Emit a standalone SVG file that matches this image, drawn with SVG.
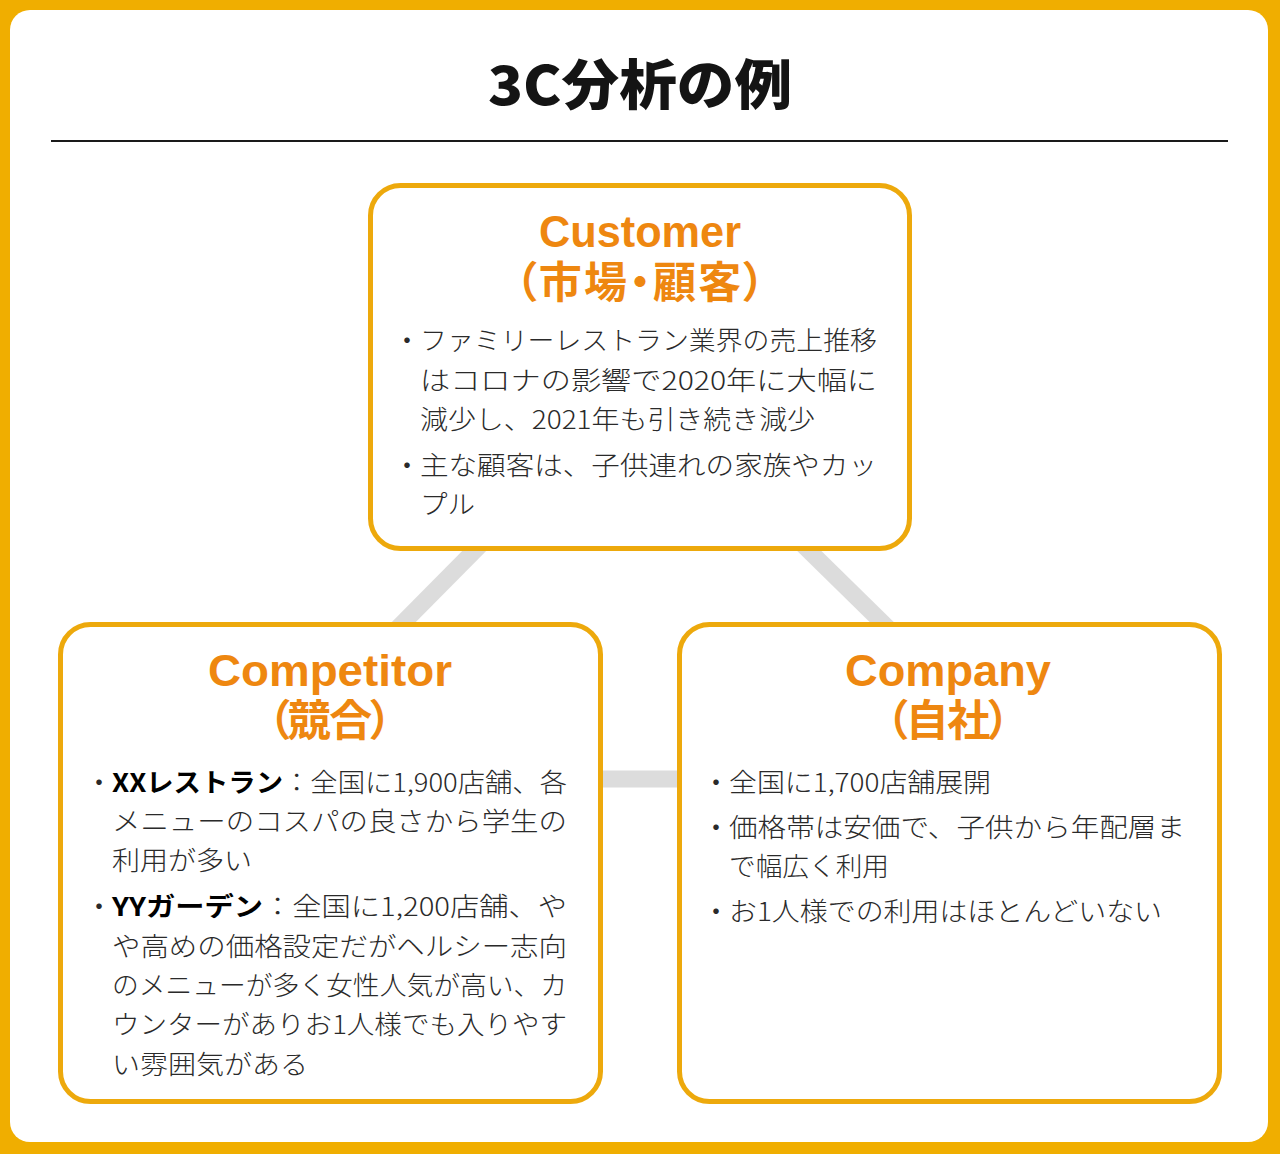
<svg xmlns="http://www.w3.org/2000/svg" width="1280" height="1154" viewBox="0 0 1280 1154">
<style>
.frame{fill:#F0AE00}
.panel{fill:#FFFFFF}
.box{fill:#FFFFFF;stroke:#EDA90C;stroke-width:5}
.conn{stroke:#DCDCDC;stroke-width:17;fill:none}
.title{font-family:"Noto Sans CJK JP","Noto Sans",sans-serif;font-weight:900;font-size:54px;fill:#141414;text-anchor:middle}
.hEn{font-family:"Liberation Sans","Noto Sans",sans-serif;font-weight:bold;font-size:44px;fill:#EE8710;text-anchor:middle}
.hJa{font-family:"Noto Sans CJK JP",sans-serif;font-weight:bold;font-size:43px;fill:#EE8710;text-anchor:middle;font-feature-settings:"palt"}
.body{font-family:"Noto Sans CJK JP",sans-serif;font-weight:300;font-size:26px;fill:#2a2a2a}
.bul{font-family:"Noto Sans CJK JP",sans-serif;font-weight:400;font-size:26px;fill:#2a2a2a;text-anchor:end}
.em{font-weight:bold;fill:#000}
</style>
<rect class="frame" x="0" y="0" width="1280" height="1154"/>
<rect class="panel" x="10" y="10" width="1258" height="1132" rx="20"/>
<g id="title">
<text class="title" x="640" y="105" textLength="304" lengthAdjust="spacingAndGlyphs">3C分析の例</text>
<line x1="51" y1="141" x2="1228" y2="141" stroke="#1a1a1a" stroke-width="2"/>
</g>
<g id="connectors">
<line class="conn" x1="490" y1="535" x2="388" y2="638"/>
<line class="conn" x1="793" y1="535" x2="898" y2="638"/>
<line class="conn" x1="595" y1="779" x2="685" y2="779"/>
</g>
<g id="customer">
<rect class="box" x="370.5" y="185.5" width="539" height="363" rx="30"/>
<text class="hEn" x="640" y="247" textLength="202" lengthAdjust="spacingAndGlyphs">Customer</text>
<text class="hJa" x="640" y="298" textLength="250" lengthAdjust="spacing">（市場・顧客）</text>
<text class="bul" x="420" y="350">・</text>
<text class="body" x="420" y="350" textLength="457" lengthAdjust="spacingAndGlyphs">ファミリーレストラン業界の売上推移</text>
<text class="body" x="420" y="390" textLength="457" lengthAdjust="spacingAndGlyphs">はコロナの影響で2020年に大幅に</text>
<text class="body" x="420" y="429" textLength="395" lengthAdjust="spacingAndGlyphs">減少し、2021年も引き続き減少</text>
<text class="bul" x="420" y="475">・</text>
<text class="body" x="420" y="475" textLength="457" lengthAdjust="spacingAndGlyphs">主な顧客は、子供連れの家族やカッ</text>
<text class="body" x="420" y="514" textLength="55" lengthAdjust="spacingAndGlyphs">プル</text>
</g>
<g id="competitor">
<rect class="box" x="60.5" y="624.5" width="540" height="477" rx="30"/>
<text class="hEn" x="330" y="686" textLength="244" lengthAdjust="spacingAndGlyphs">Competitor</text>
<text class="hJa" x="330" y="736" textLength="124" lengthAdjust="spacing">（競合）</text>
<text class="bul" x="112" y="792">・</text>
<text class="body" x="112" y="792" textLength="455" lengthAdjust="spacingAndGlyphs"><tspan class="em">XXレストラン</tspan>：全国に1,900店舗、各</text>
<text class="body" x="112" y="831" textLength="455" lengthAdjust="spacingAndGlyphs">メニューのコスパの良さから学生の</text>
<text class="body" x="112" y="870" textLength="140" lengthAdjust="spacingAndGlyphs">利用が多い</text>
<text class="bul" x="112" y="916">・</text>
<text class="body" x="112" y="916" textLength="455" lengthAdjust="spacingAndGlyphs"><tspan class="em">YYガーデン</tspan>：全国に1,200店舗、や</text>
<text class="body" x="112" y="956" textLength="455" lengthAdjust="spacingAndGlyphs">や高めの価格設定だがヘルシー志向</text>
<text class="body" x="112" y="995" textLength="455" lengthAdjust="spacingAndGlyphs">のメニューが多く女性人気が高い、カ</text>
<text class="body" x="112" y="1034" textLength="455" lengthAdjust="spacingAndGlyphs">ウンターがありお1人様でも入りやす</text>
<text class="body" x="112" y="1074" textLength="196" lengthAdjust="spacingAndGlyphs">い雰囲気がある</text>
</g>
<g id="company">
<rect class="box" x="679.5" y="624.5" width="540" height="477" rx="30"/>
<text class="hEn" x="948" y="686" textLength="206" lengthAdjust="spacingAndGlyphs">Company</text>
<text class="hJa" x="948" y="736" textLength="124" lengthAdjust="spacing">（自社）</text>
<text class="bul" x="729" y="792">・</text>
<text class="body" x="729" y="792" textLength="262" lengthAdjust="spacingAndGlyphs">全国に1,700店舗展開</text>
<text class="bul" x="729" y="837">・</text>
<text class="body" x="729" y="837" textLength="456" lengthAdjust="spacingAndGlyphs">価格帯は安価で、子供から年配層ま</text>
<text class="body" x="729" y="876" textLength="160" lengthAdjust="spacingAndGlyphs">で幅広く利用</text>
<text class="bul" x="729" y="921">・</text>
<text class="body" x="729" y="921" textLength="433" lengthAdjust="spacingAndGlyphs">お1人様での利用はほとんどいない</text>
</g>
</svg>
